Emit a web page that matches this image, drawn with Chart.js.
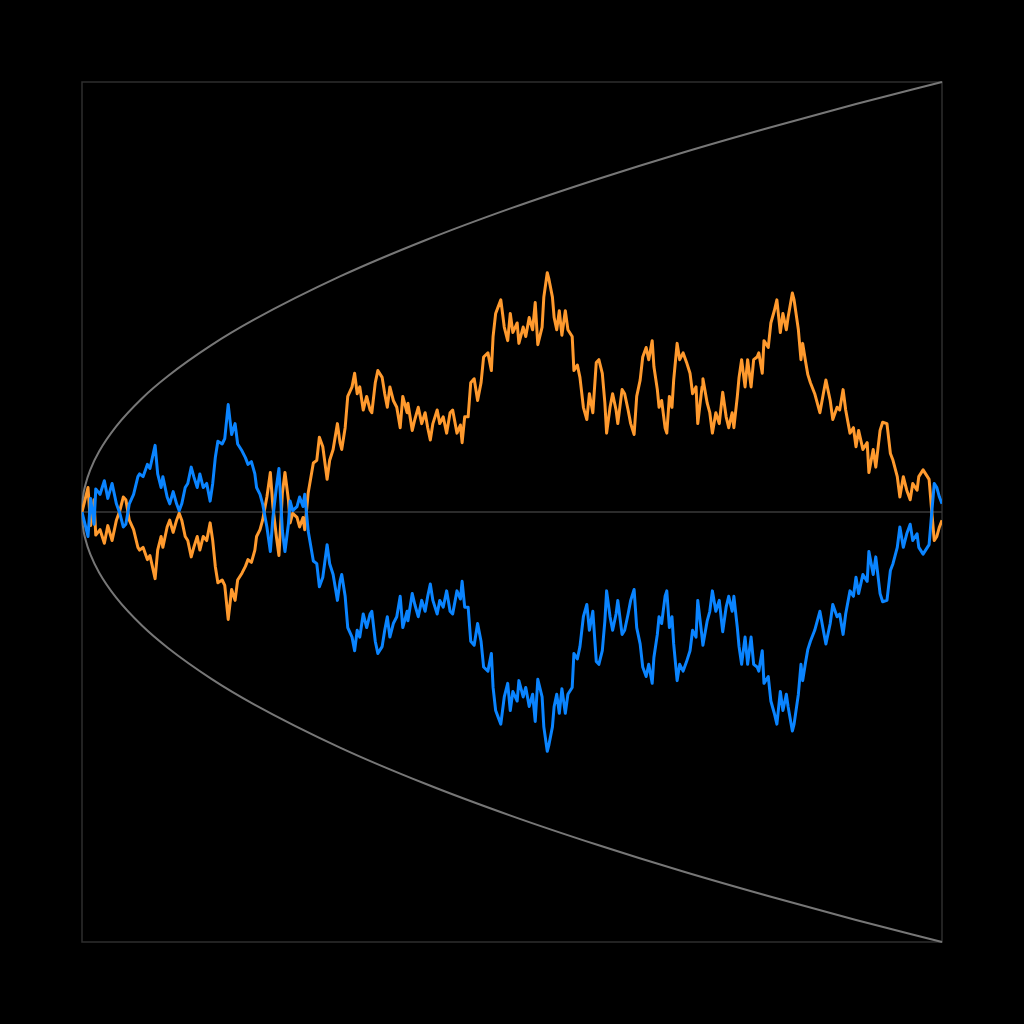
<!DOCTYPE html>
<html>
<head>
<meta charset="utf-8">
<script src="https://cdn.jsdelivr.net/npm/chart.js@4.4.1/dist/chart.umd.min.js"></script>
<style>
  html, body { margin: 0; padding: 0; background: #000; }
  #wrap { width: 1024px; height: 1024px; }
</style>
</head>
<body>
<div id="wrap"><canvas id="walk_chart" width="1024" height="1024"></canvas></div>
<script>
// step index of each sample
const steps = [
    0,7,10,14,16,21,26,30,35,40,
    44,48,51,55,60,65,67,71,76,79,
    85,88,92,94,99,102,106,110,113,116,
    120,123,127,130,134,137,141,145,149,152,
    155,158,163,166,170,174,178,181,186,190,
    193,197,201,203,207,210,215,219,222,226,
    229,233,236,240,242,245,250,253,257,259,
    263,269,273,276,280,285,288,292,297,300,
    302,306,309,314,317,320,323,
    327,331,335,337,341,344,349,352,355,358,
    362,366,370,373,378,379,384,387,391,395,
    399,402,405,408,413,416,420,424,428,431,
    436,440,442,445,449,452,456,460,464,467,
    472,476,478,481,484,487,491,495,498,501,
    506,508,513,516,520,524,527,530,535,537,
    541,543,547,549,552,555,558,562,565,570,
    572,576,579,583,587,590,594,598,601,605,
    608,610,614,617,621,623,628,631,635,638,
    642,645,649,652,656,659,663,665,669,671,
    674,678,680,683,686,688,692,695,699,703,
    707,710,714,716,721,722,727,730,733,737,
    741,745,749,752,756,758,762,764,767,771,
    774,778,781,785,787,791,793,798,801,805,
    808,812,815,819,821,826,828,833,836,838,
    841,844,847,852,858,862,865,870,873,878,
    881,885,888,893,897,900,903,908,913,915,
    920,923,928,931,936,940,943,948,951,955,
    959,963,966,971,973,978,983,985,988,991,
    994,997,1000
];

// orange walk position
const walkA = [
    0,1.8,-1.0,0.9,-1.7,-1.3,-2.3,-1.0,-2.1,-0.6,
    0.1,1.1,0.9,-0.6,-1.3,-2.6,-2.8,-2.6,-3.5,-3.2,
    -4.9,-2.8,-1.8,-2.6,-1.1,-0.6,-1.5,-0.6,-0.1,-0.6,
    -1.8,-2.1,-3.3,-2.6,-1.8,-2.8,-1.8,-2.1,-0.8,-2.1,
    -4.0,-5.2,-5.0,-5.4,-7.9,-5.7,-6.5,-5.0,-4.5,-4.0,
    -3.5,-3.7,-2.8,-1.8,-1.3,-0.6,1.1,2.9,0.4,-1.8,
    -3.2,1.4,2.9,0.9,-0.8,-0.1,-0.4,-1.1,-0.4,-1.3,
    1.4,3.6,3.8,5.5,4.8,2.4,3.8,4.6,6.5,5.1,
    4.6,6.2,8.5,9.2,10.2,8.7,9.2,
    7.5,8.5,7.5,7.3,9.5,10.4,9.9,8.7,7.7,9.2,
    8.2,7.7,6.2,8.5,7.3,8.0,6.0,6.8,7.7,6.5,
    7.3,6.2,5.3,6.5,7.5,6.5,7.0,5.8,7.3,7.5,
    5.8,6.4,5.1,7.0,7.0,9.5,9.8,8.2,9.5,11.4,
    11.7,10.4,12.9,14.6,15.1,15.6,13.6,12.6,14.6,13.2,
    13.9,12.4,13.6,12.9,14.3,13.4,15.4,12.3,13.6,15.8,
    17.6,17.1,15.8,14.3,13.4,14.8,13.0,14.8,13.4,12.9,
    10.4,10.8,9.9,7.7,6.8,8.7,7.3,11.0,11.2,10.2,
    8.0,5.8,7.7,8.7,7.5,6.5,9.0,8.7,7.5,6.5,
    5.7,8.5,9.7,11.4,12.1,11.2,12.6,10.7,9.0,7.7,
    8.2,6.2,5.8,8.5,7.7,9.7,12.4,11.2,11.7,11.0,
    10.2,8.7,9.2,6.5,9.2,9.8,8.0,7.3,5.8,7.3,
    6.5,8.8,7.0,6.2,7.3,6.2,8.5,9.9,11.2,9.2,
    11.2,9.2,11.2,11.4,11.7,10.2,12.6,12.1,13.9,14.8,
    15.6,13.2,14.6,13.4,14.3,16.1,15.6,13.4,11.2,12.4,
    11.2,10.1,9.5,8.7,7.3,8.7,9.7,8.2,6.8,7.7,
    7.5,9.0,7.5,5.8,6.2,4.8,6.0,4.6,5.1,2.9,
    4.6,3.3,6.0,6.6,6.5,4.3,3.8,2.6,1.1,2.6,
    1.6,0.9,2.1,1.6,2.6,3.1,2.6,2.4,0.1,-2.1,
    -1.8,-1.1,-0.6
];

// blue walk is the mirror image of the orange one
const walkB = walkA.map(v => -v);

// gray envelope samples (upper half, lower is mirrored)
const envSteps = [0, 1, 4, 10, 20, 40, 70, 100, 150, 200, 300, 400, 500, 600, 700, 800, 900, 1000];
const envUpper = [0, 1, 2, 3.16, 4.47, 6.32, 8.37, 10, 12.25, 14.14, 17.32, 20, 22.36, 24.49, 26.46, 28.28, 30, 31.62];
const envLower = envUpper.map(v => -v);

function pts(xs, ys) {
    return xs.map((x, i) => ({x: x, y: ys[i]}));
}

const framePlugin = {
    id: 'frame',
    beforeDatasetsDraw(chart) {
        const ctx = chart.ctx;
        const a = chart.chartArea;
        const y0 = chart.scales.y.getPixelForValue(0);
        ctx.save();
        ctx.strokeStyle = '#2e2e2e';
        ctx.lineWidth = 1.5;
        ctx.strokeRect(a.left, a.top, a.right - a.left, a.bottom - a.top);
        ctx.strokeStyle = '#3a3a3a';
        ctx.beginPath();
        ctx.moveTo(a.left, y0);
        ctx.lineTo(a.right, y0);
        ctx.stroke();
        ctx.restore();
    }
};

const ctx = document.getElementById('walk_chart').getContext('2d');
const walk_chart = new Chart(ctx, {
    type: 'line',
    data: {
        datasets: [
            {
                label: 'walk B',
                data: pts(steps, walkB),
                borderColor: '#0a84ff',
                borderWidth: 3,
                borderJoinStyle: 'round',
                pointRadius: 0,
                tension: 0,
                order: 0
            },
            {
                label: 'walk A',
                data: pts(steps, walkA),
                borderColor: '#ff9a2e',
                borderWidth: 3,
                borderJoinStyle: 'round',
                pointRadius: 0,
                tension: 0,
                order: 1
            },
            {
                label: 'upper',
                data: pts(envSteps, envUpper),
                borderColor: '#777777',
                borderWidth: 2,
                pointRadius: 0,
                cubicInterpolationMode: 'monotone',
                clip: false,
                order: 2
            },
            {
                label: 'lower',
                data: pts(envSteps, envLower),
                borderColor: '#777777',
                borderWidth: 2,
                pointRadius: 0,
                cubicInterpolationMode: 'monotone',
                clip: false,
                order: 2
            }
        ]
    },
    options: {
        responsive: false,
        animation: false,
        layout: {
            padding: {left: 82, right: 82, top: 82, bottom: 82}
        },
        plugins: {
            legend: { display: false },
            tooltip: { enabled: false }
        },
        scales: {
            x: { type: 'linear', min: 0, max: 1000, display: false },
            y: { type: 'linear', min: -31.62, max: 31.62, display: false }
        }
    },
    plugins: [framePlugin]
});
</script>
</body>
</html>
